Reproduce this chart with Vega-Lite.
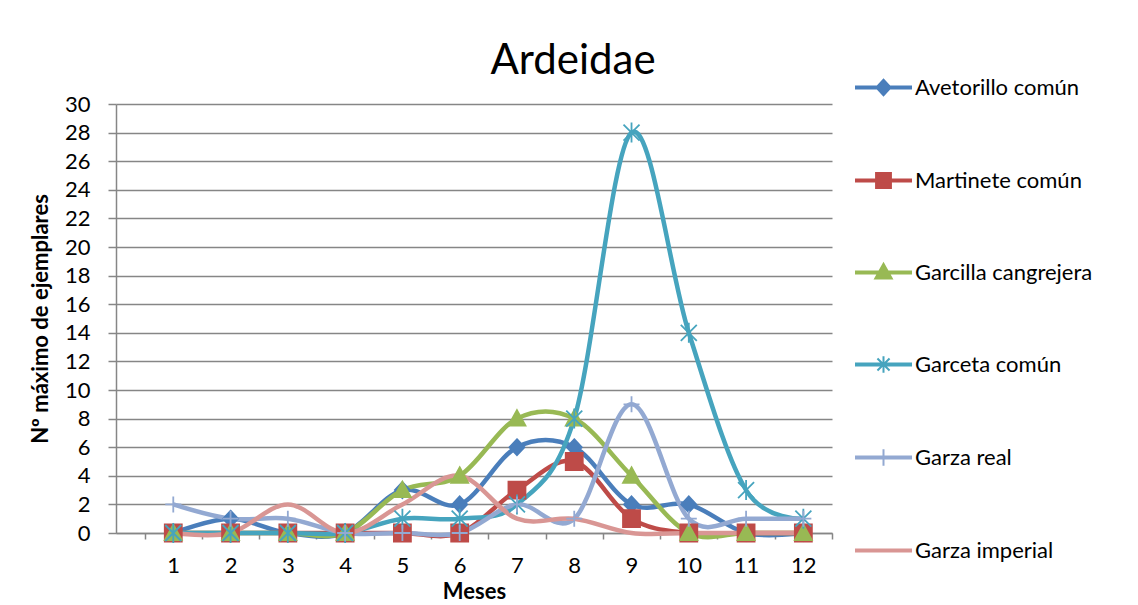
{
  "$schema": "https://vega.github.io/schema/vega-lite/v6.json",
  "width": 716,
  "height": 429,
  "autosize": {"type": "none"},
  "padding": {"left": 116, "top": 104, "right": 306, "bottom": 72},
  "background": "white",
  "title": {"text": "Ardeidae", "font": "Lato", "fontSize": 42, "fontWeight": "normal", "color": "#000000", "anchor": "middle", "dx": 99, "baseline": "alphabetic", "offset": -57},
  "config": {
    "view": {"stroke": null},
    "axis": {
      "domainColor": "#868686", "tickColor": "#868686", "gridColor": "#868686",
      "domainWidth": 1.5, "tickWidth": 1.5, "gridWidth": 1.5,
      "labelFont": "Lato", "labelFontSize": 22, "labelColor": "#000000",
      "titleFont": "Lato", "titleFontSize": 22, "titleFontWeight": "bold", "titleColor": "#000000"
    }
  },
  "data": {"values": [
    {"mes": 1, "especie": "Avetorillo común", "n": 0},
    {"mes": 2, "especie": "Avetorillo común", "n": 1},
    {"mes": 3, "especie": "Avetorillo común", "n": 0},
    {"mes": 4, "especie": "Avetorillo común", "n": 0},
    {"mes": 5, "especie": "Avetorillo común", "n": 3},
    {"mes": 6, "especie": "Avetorillo común", "n": 2},
    {"mes": 7, "especie": "Avetorillo común", "n": 6},
    {"mes": 8, "especie": "Avetorillo común", "n": 6},
    {"mes": 9, "especie": "Avetorillo común", "n": 2},
    {"mes": 10, "especie": "Avetorillo común", "n": 2},
    {"mes": 11, "especie": "Avetorillo común", "n": 0},
    {"mes": 12, "especie": "Avetorillo común", "n": 0},
    {"mes": 1, "especie": "Martinete común", "n": 0},
    {"mes": 2, "especie": "Martinete común", "n": 0},
    {"mes": 3, "especie": "Martinete común", "n": 0},
    {"mes": 4, "especie": "Martinete común", "n": 0},
    {"mes": 5, "especie": "Martinete común", "n": 0},
    {"mes": 6, "especie": "Martinete común", "n": 0},
    {"mes": 7, "especie": "Martinete común", "n": 3},
    {"mes": 8, "especie": "Martinete común", "n": 5},
    {"mes": 9, "especie": "Martinete común", "n": 1},
    {"mes": 10, "especie": "Martinete común", "n": 0},
    {"mes": 11, "especie": "Martinete común", "n": 0},
    {"mes": 12, "especie": "Martinete común", "n": 0},
    {"mes": 1, "especie": "Garcilla cangrejera", "n": 0},
    {"mes": 2, "especie": "Garcilla cangrejera", "n": 0},
    {"mes": 3, "especie": "Garcilla cangrejera", "n": 0},
    {"mes": 4, "especie": "Garcilla cangrejera", "n": 0},
    {"mes": 5, "especie": "Garcilla cangrejera", "n": 3},
    {"mes": 6, "especie": "Garcilla cangrejera", "n": 4},
    {"mes": 7, "especie": "Garcilla cangrejera", "n": 8},
    {"mes": 8, "especie": "Garcilla cangrejera", "n": 8},
    {"mes": 9, "especie": "Garcilla cangrejera", "n": 4},
    {"mes": 10, "especie": "Garcilla cangrejera", "n": 0},
    {"mes": 11, "especie": "Garcilla cangrejera", "n": 0},
    {"mes": 12, "especie": "Garcilla cangrejera", "n": 0},
    {"mes": 1, "especie": "Garceta común", "n": 0},
    {"mes": 2, "especie": "Garceta común", "n": 0},
    {"mes": 3, "especie": "Garceta común", "n": 0},
    {"mes": 4, "especie": "Garceta común", "n": 0},
    {"mes": 5, "especie": "Garceta común", "n": 1},
    {"mes": 6, "especie": "Garceta común", "n": 1},
    {"mes": 7, "especie": "Garceta común", "n": 2},
    {"mes": 8, "especie": "Garceta común", "n": 8},
    {"mes": 9, "especie": "Garceta común", "n": 28},
    {"mes": 10, "especie": "Garceta común", "n": 14},
    {"mes": 11, "especie": "Garceta común", "n": 3},
    {"mes": 12, "especie": "Garceta común", "n": 1},
    {"mes": 1, "especie": "Garza real", "n": 2},
    {"mes": 2, "especie": "Garza real", "n": 1},
    {"mes": 3, "especie": "Garza real", "n": 1},
    {"mes": 4, "especie": "Garza real", "n": 0},
    {"mes": 5, "especie": "Garza real", "n": 0},
    {"mes": 6, "especie": "Garza real", "n": 0},
    {"mes": 7, "especie": "Garza real", "n": 2},
    {"mes": 8, "especie": "Garza real", "n": 1},
    {"mes": 9, "especie": "Garza real", "n": 9},
    {"mes": 10, "especie": "Garza real", "n": 1},
    {"mes": 11, "especie": "Garza real", "n": 1},
    {"mes": 12, "especie": "Garza real", "n": 1},
    {"mes": 1, "especie": "Garza imperial", "n": 0},
    {"mes": 2, "especie": "Garza imperial", "n": 0},
    {"mes": 3, "especie": "Garza imperial", "n": 2},
    {"mes": 4, "especie": "Garza imperial", "n": 0},
    {"mes": 5, "especie": "Garza imperial", "n": 2},
    {"mes": 6, "especie": "Garza imperial", "n": 4},
    {"mes": 7, "especie": "Garza imperial", "n": 1},
    {"mes": 8, "especie": "Garza imperial", "n": 1},
    {"mes": 9, "especie": "Garza imperial", "n": 0},
    {"mes": 10, "especie": "Garza imperial", "n": 0},
    {"mes": 11, "especie": "Garza imperial", "n": 0},
    {"mes": 12, "especie": "Garza imperial", "n": 0}
  ]},
  "encoding": {
    "x": {
      "field": "mes", "type": "quantitative",
      "scale": {"domain": [0, 12.5], "nice": false, "zero": false},
      "axis": {
        "title": "Meses", "grid": false,
        "values": [0.5, 1.5, 2.5, 3.5, 4.5, 5.5, 6.5, 7.5, 8.5, 9.5, 10.5, 11.5, 12.5],
        "labelExpr": "datum.value < 12 ? format(datum.value + 0.5, 'd') : ''",
        "labelOffset": 28.6, "labelFlush": false, "labelOverlap": false,
        "tickSize": 6, "labelPadding": 16, "titlePadding": 5
      }
    },
    "y": {
      "field": "n", "type": "quantitative",
      "scale": {"domain": [0, 30], "nice": false},
      "axis": {
        "title": "Nº máximo de ejemplares",
        "values": [0, 2, 4, 6, 8, 10, 12, 14, 16, 18, 20, 22, 24, 26, 28, 30],
        "grid": true, "tickSize": 8, "labelPadding": 18, "titlePadding": 12
      }
    }
  },
  "layer": [
    {
      "mark": {"type": "line", "interpolate": "cardinal", "strokeWidth": 4.5},
      "encoding": {
        "color": {
          "field": "especie", "type": "nominal",
          "scale": {
            "domain": ["Avetorillo común", "Martinete común", "Garcilla cangrejera", "Garceta común", "Garza real", "Garza imperial"],
            "range": ["#4A7EBB", "#BE4B48", "#98B954", "#46A4BE", "#93A9D2", "#D99694"]
          },
          "legend": {
            "orient": "none", "legendX": 739, "legendY": -45, "title": null, "padding": 0,
            "labelFont": "Lato", "labelFontSize": 22, "labelColor": "#000000", "labelLimit": 300,
            "symbolSize": 3025, "symbolStrokeWidth": 2, "rowPadding": 52, "labelOffset": 3,
            "encode": {
              "symbols": {
                "update": {
                  "shape": {"signal": "datum.value === 'Avetorillo común' ? 'M-1,-0.04H1V0.04H-1ZM0,-0.28L0.26,0L0,0.28L-0.26,0Z' : datum.value === 'Martinete común' ? 'M-1,-0.04H1V0.04H-1ZM-0.27,-0.27H0.27V0.27H-0.27Z' : datum.value === 'Garcilla cangrejera' ? 'M-1,-0.04H1V0.04H-1ZM0,-0.32L0.3,0.22H-0.3Z' : datum.value === 'Garceta común' ? 'M-1,-0.04H1V0.04H-1ZM-0.22,-0.22L0.22,0.22M0.22,-0.22L-0.22,0.22M0,-0.3V0.3' : datum.value === 'Garza real' ? 'M-1,-0.04H1V0.04H-1ZM0,-0.3V0.3' : 'M-1,-0.04H1V0.04H-1Z'"},
                  "fill": {"scale": "color", "field": "value"},
                  "stroke": {"scale": "color", "field": "value"},
                  "strokeWidth": {"value": 2},
                  "opacity": {"value": 1}
                }
              }
            }
          }
        }
      }
    },
    {
      "transform": [{"filter": "datum.especie !== 'Garza imperial'"}],
      "mark": {"type": "point", "filled": true, "size": 400, "strokeWidth": 1.8, "opacity": 1},
      "encoding": {
        "color": {"field": "especie", "type": "nominal", "legend": null},
        "stroke": {
          "field": "especie", "type": "nominal", "legend": null,
          "scale": {
            "domain": ["Avetorillo común", "Martinete común", "Garcilla cangrejera", "Garceta común", "Garza real"],
            "range": ["#4A7EBB", "#BE4B48", "#98B954", "#46A4BE", "#93A9D2"]
          }
        },
        "shape": {
          "field": "especie", "type": "nominal", "legend": null,
          "scale": {
            "domain": ["Avetorillo común", "Martinete común", "Garcilla cangrejera", "Garceta común", "Garza real"],
            "range": [
              "M0,-0.8L0.75,0L0,0.8L-0.75,0Z",
              "M-0.85,-0.85H0.85V0.85H-0.85Z",
              "M0,-0.85L0.85,0.7H-0.85Z",
              "M-0.8,-0.8L0.8,0.8M0.8,-0.8L-0.8,0.8M0,-1V1",
              "M-0.8,0H0.8M0,-0.8V0.8"
            ]
          }
        }
      }
    }
  ]
}
